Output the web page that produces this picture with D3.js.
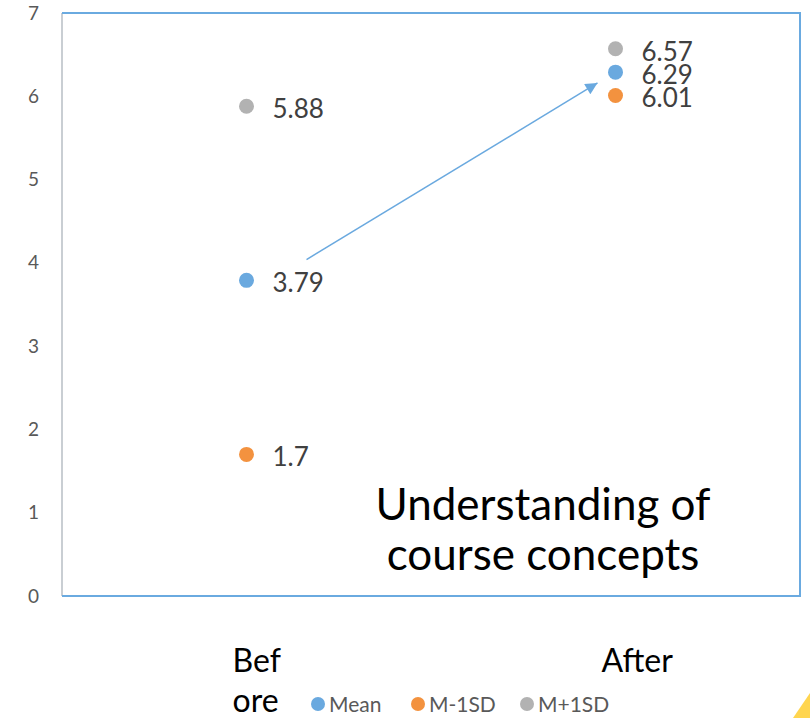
<!DOCTYPE html>
<html>
<head>
<meta charset="utf-8">
<script src="https://cdn.jsdelivr.net/npm/d3@7"></script>
<style>
  body { margin: 0; background: #fff; }
  svg { display: block; font-family: Lato, "Open Sans", sans-serif; }
</style>
</head>
<body>
<div id="chart"></div>
<script>
// categories and series
const categories = ['Before', 'After'];
const seriesNames = ['Mean', 'M-1SD', 'M+1SD'];
const meanValues = [3.79, 6.29];
const minusSdValues = [1.7, 6.01];
const plusSdValues = [5.88, 6.57];
const yTicks = [0, 1, 2, 3, 4, 5, 6, 7];
const titleLines = ['Understanding of', 'course concepts'];
const catLabelLines = { Before: ['Bef', 'ore'], After: ['After'] };

const colors = { 'Mean': '#6aa9df', 'M-1SD': '#f3923f', 'M+1SD': '#b2b2b2' };

const width = 810, height = 718;
const plot = { left: 62, right: 800, top: 13, bottom: 596 };

const svg = d3.select('#chart').append('svg')
    .attr('width', width)
    .attr('height', height);

const x = d3.scaleBand().domain(categories).range([plot.left, plot.right]);
const cx = c => x(c) + x.bandwidth() / 2;
const y = d3.scaleLinear().domain([0, 7]).range([plot.bottom, plot.top]);

// axis labels
const yAxis = d3.axisLeft(y).tickValues(yTicks).tickFormat(d3.format('d')).tickSize(0).tickPadding(23);
const yg = svg.append('g')
    .attr('transform', `translate(${plot.left},0)`)
    .call(yAxis);
yg.select('.domain').remove();
yg.selectAll('text')
    .attr('font-size', 19)
    .attr('font-family', 'Lato, sans-serif')
    .attr('fill', '#595959');

// plot frame: grey left, blue other sides
svg.append('line')
    .attr('x1', plot.left).attr('x2', plot.left)
    .attr('y1', plot.top).attr('y2', plot.bottom)
    .attr('stroke', '#c9ced3').attr('stroke-width', 2);
svg.append('path')
    .attr('d', `M${plot.left},${plot.top}H${plot.right}V${plot.bottom}H${plot.left}`)
    .attr('fill', 'none')
    .attr('stroke', '#6aaae0')
    .attr('stroke-width', 2);

// points
const series = [
    { name: 'Mean', values: meanValues },
    { name: 'M-1SD', values: minusSdValues },
    { name: 'M+1SD', values: plusSdValues }
];
const points = [];
series.forEach(s => s.values.forEach((v, i) => points.push({ name: s.name, cat: categories[i], value: v })));

svg.append('g').selectAll('circle')
    .data(points)
    .enter()
    .append('circle')
    .attr('cx', d => cx(d.cat))
    .attr('cy', d => y(d.value))
    .attr('r', 7.5)
    .attr('fill', d => colors[d.name]);

svg.append('g').selectAll('text')
    .data(points)
    .enter()
    .append('text')
    .attr('x', d => cx(d.cat) + 26)
    .attr('y', d => y(d.value) + 12)
    .attr('font-size', 26)
    .attr('fill', '#404040')
    .text(d => d.value);

// arrow annotation from Before mean to After mean
svg.append('defs').append('marker')
    .attr('id', 'head')
    .attr('viewBox', '0 0 10 10')
    .attr('refX', 10).attr('refY', 5)
    .attr('markerWidth', 14).attr('markerHeight', 12)
    .attr('markerUnits', 'userSpaceOnUse')
    .attr('orient', 'auto')
    .append('path')
    .attr('d', 'M0,0L10,5L0,10Z')
    .attr('fill', '#6aa9df');

svg.append('line')
    .attr('x1', cx('Before') + 60).attr('y1', y(4.04))
    .attr('x2', cx('After') - 18).attr('y2', y(6.16))
    .attr('stroke', '#6aa9df')
    .attr('stroke-width', 1.5)
    .attr('marker-end', 'url(#head)');

// title inside plot
svg.append('text')
    .attr('x', 543)
    .attr('y', 520)
    .attr('text-anchor', 'middle')
    .attr('font-size', 44)
    .attr('fill', '#000')
    .selectAll('tspan')
    .data(titleLines)
    .enter()
    .append('tspan')
    .attr('x', 543)
    .attr('dy', (d, i) => i === 0 ? 0 : 50)
    .text(d => d);

// category labels (wrapped like the original)
categories.forEach(c => {
    svg.append('text')
        .attr('x', cx(c) - 14)
        .attr('y', 672)
        .attr('font-size', 32)
        .attr('fill', '#000')
        .selectAll('tspan')
        .data(catLabelLines[c])
        .enter()
        .append('tspan')
        .attr('x', cx(c) - 14)
        .attr('dy', (d, i) => i === 0 ? 0 : 40)
        .text(d => d);
});

// legend
const legendX = [318, 418, 527];
const legend = svg.append('g').selectAll('g')
    .data(seriesNames)
    .enter()
    .append('g')
    .attr('transform', (d, i) => `translate(${legendX[i]},704)`);
legend.append('circle').attr('r', 7).attr('fill', d => colors[d]);
legend.append('text')
    .attr('x', 11).attr('y', 7.5)
    .attr('font-size', 21)
    .attr('fill', '#595959')
    .text(d => d);

// small yellow corner triangle
svg.append('path')
    .attr('d', `M${width},${height - 25}L${width},${height}L${width - 17},${height}Z`)
    .attr('fill', '#ffd54f');
</script>
</body>
</html>
